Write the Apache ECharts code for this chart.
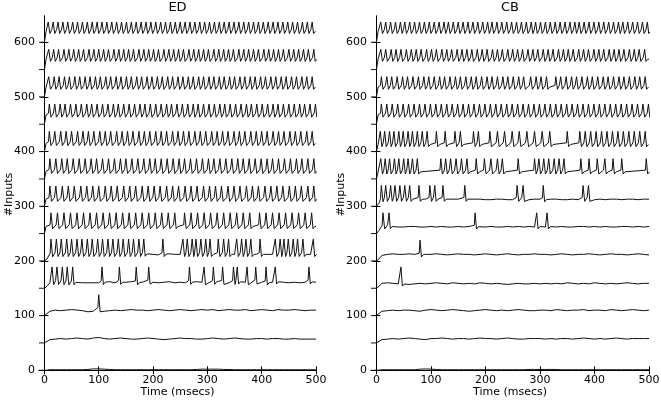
<!DOCTYPE html>
<html><head><meta charset="utf-8">
<script src="https://cdn.jsdelivr.net/npm/echarts@6/dist/echarts.min.js"></script>
<style>html,body{margin:0;padding:0;background:#fff}#c{width:661px;height:400px}</style>
</head><body><div id="c"></div>
<script>
const panelTitles = ['ED', 'CB'];
const xTickVals = [0, 100, 200, 300, 400, 500];
const yTickVals = [0, 100, 200, 300, 400, 500, 600];
const traceOffsets = [0, 50, 100, 150, 200, 250, 300, 350, 400, 450, 500, 550, 600];
const levelTimes = [5, 10,20,30,40,50,60,70,80,90,100, 110,120,130,140,150,160,170,180,190,200, 210,220,230,240,250,260,270,280,290,300, 310,320,330,340,350,360,370,380,390,400, 410,420,430,440,450,460,470,480,490,500];

// ---------- ED panel ----------
const edLvl0   = [0.3, 1,1,1,1,1,1,1,1.5,2.5,2.5, 2,1.5,1,1,1,1,1,1,1,1, 1,1,1,1,1,1,1,1.5,2,2, 2,2,1.5,1.5,1,1,1,1,1,1, 1,1,1,1,1,1,1,1,1,1];
const edLvl50  = [53, 56,57,58,57,58,59,58,57,59,60, 58,57,58,59,58,57,57,58,59,58, 57,56,57,58,59,58,58,57,57,58, 59,58,57,58,59,58,57,57,58,58, 57,58,58,57,57,58,57,57,57,57];
const edLvl100 = [104, 108,110,109,110,111,110,109,107,108,112, 108,109,110,109,110,111,110,110,109,110, 111,110,109,110,111,110,109,110,111,110, 111,109,110,111,110,110,111,109,110,111, 110,109,111,110,110,111,110,109,110,110];
const edLvl150 = [154, 160,161,161,160,160,161,160,160,160,160, 161,162,160,161,161,162,160,161,162,161, 160,161,162,160,161,160,161,162,161,160, 161,162,161,160,161,162,161,160,162,161, 160,161,162,161,160,161,160,161,162,161];
const edLvl200 = [204, 211,212,212,212,212,212,212,212,212,212, 212,212,212,212,212,212,212,212,213,212, 211,212,213,212,212,212,212,212,212,212, 212,212,212,212,212,212,212,212,212,212, 212,212,212,212,212,212,212,212,212,212];

const edS0 = [];
const edS50 = [];
const edS100 = [100];
const edS150 = [14,23,33,42,52,106,138,169,192,267,294,311,328,348,355,373,389,408,425,487];
const edS200 = [12,22,31,41,50,60,69,79,88,98,107,117,126,136,145,155,164,174,183,218,255,263,272,279,288,297,305,320,330,339,354,363,371,380,397,425,434,441,449,458,466,476,495];
const edS250 = [12,24,36,48,60,72,84,96,108,120,132,144,156,168,180,192,204,216,228,240,258,270,282,294,306,318,330,342,354,366,378,396,408,420,432,444,456,468,480,492];
const edS300 = [10,21,33,44,55,67,78,89,100,112,123,134,146,157,168,180,191,202,213,225,236,247,259,270,281,293,304,315,326,338,349,360,372,383,394,406,417,428,439,451,462,473,485,496];
const edS350 = [10,21,32,42,53,64,75,86,96,107,118,129,140,150,161,172,183,194,204,215,226,237,248,258,269,280,291,302,312,323,334,345,356,366,377,388,399,410,420,431,442,453,464,474,485,496];
const edS400 = [9,19,30,40,50,61,71,81,91,102,112,122,133,143,153,163,174,184,194,205,215,225,236,246,256,266,277,287,297,308,318,328,338,349,359,369,380,390,400,410,421,431,441,452,462,472,483,493];
const edS450 = [9,19,29,38,48,58,68,78,87,97,107,117,127,136,146,156,166,176,185,195,205,215,225,234,244,254,264,274,283,293,303,313,323,332,342,352,362,372,381,391,401,411,421,430,440,450,460,470,479,489,499];
const edS500 = [8,18,27,37,46,56,65,75,84,94,103,113,122,132,141,151,160,170,179,189,198,208,217,227,236,246,255,265,274,284,293,303,312,322,331,341,350,360,369,379,388,398,407,417,426,436,445,455,464,474,483,493];
const edS550 = [8,17,26,36,45,54,63,72,82,91,100,109,118,128,137,146,155,164,174,183,192,201,210,220,229,238,247,256,266,275,284,293,302,312,321,330,339,348,358,367,376,385,394,404,413,422,431,440,450,459,468,477,486,496];
const edS600 = [7,16,25,34,43,52,61,70,79,88,97,106,115,124,133,142,151,160,169,178,187,196,205,214,223,232,241,250,259,268,277,286,295,304,313,322,331,340,349,358,367,376,385,394,403,412,421,430,439,448,457,466,475,484,493];

const edSpikes = [edS0, edS50, edS100, edS150, edS200, edS250, edS300, edS350, edS400, edS450, edS500, edS550, edS600];
const edBase = [edLvl0, edLvl50, edLvl100, edLvl150, edLvl200, 13, 13, 14, 15, 17, 18, 19, 20];
const edPeak = [0, 0, 38, 39, 40, 38, 37, 37, 37, 37, 37, 37, 37];

// ---------- CB panel ----------
const cbLvl0   = [0.3, 1,1,1,1,1,1,1,2,2.5,2, 1.5,1,1,1,1,1,1,1,1,1, 1,1,1,1,1,1,1,1.5,1.5,1.5, 1.5,1.5,1.5,1,1,1,1,1,1,1, 1,1,1,1,1,1,1,1,1,1];
const cbLvl50  = [53, 56,57,58,57,58,59,58,57,56,58, 58,59,58,57,58,58,57,58,59,58, 58,57,58,59,58,57,57,58,58,58, 57,58,57,58,58,57,58,59,58,57, 58,57,58,59,58,57,58,58,58,58];
const cbLvl100 = [104, 108,109,110,109,110,110,109,108,110,111, 110,109,110,111,110,109,108,109,110,111, 110,109,110,109,110,111,110,109,109,110, 110,109,111,110,109,110,110,111,109,110, 110,109,111,110,109,110,111,110,109,110];
const cbLvl150 = [154, 159,160,159,158,158,157,158,159,158,159, 160,159,158,160,159,158,159,158,160,159, 158,159,158,157,158,159,158,158,159,158, 159,158,159,158,160,159,158,159,158,160, 159,158,159,158,159,160,159,158,159,159];
const cbLvl200 = [204, 210,212,213,212,212,213,212,211,212,212, 213,212,211,212,213,212,212,211,212,213, 212,211,212,213,212,211,212,212,213,212, 212,211,212,213,212,211,212,212,213,212, 211,212,213,212,212,211,212,213,212,211];
const cbLvl250 = [256, 262,263,263,262,262,263,263,262,262,263, 262,263,262,262,263,262,263,262,263,262, 263,262,262,263,262,263,262,263,262,263, 262,263,262,263,262,262,263,263,262,263, 262,263,262,262,263,263,262,263,262,263];
const cbLvl300 = [306, 312,313,313,313,313,313,313,313,313,313, 313,313,313,313,313,313,313,313,313,312, 312,313,313,312,312,313,313,312,313,313, 312,313,313,312,312,313,312,313,313,312, 313,312,313,313,312,313,313,312,313,313];

const cbS0 = [];
const cbS50 = [];
const cbS100 = [];
const cbS150 = [45];
const cbS200 = [80];
const cbS250 = [12,23,181,294,313];
const cbS300 = [9,17,26,34,43,52,61,78,98,107,122,162,258,269,306,379,389];
const cbS350 = [8,16,24,33,41,50,58,66,75,118,127,136,146,156,166,183,198,210,222,231,260,290,298,307,316,326,335,344,375,390,405,419,434,450,495];
const cbS400 = [7,15,24,32,41,49,58,66,75,84,93,110,126,144,154,178,187,208,222,235,249,262,276,290,304,318,350,373,383,393,403,413,423,433,443,453,463,473,483,493];
const cbS450 = [9,19,29,39,49,59,69,79,89,99,109,119,129,139,149,159,169,179,189,199,209,219,229,239,249,259,269,279,289,299,309,319,329,339,349,359,369,379,389,399,409,419,429,439,449,459,469,479,489,499];
const cbS500 = [9,19,28,38,48,57,67,77,87,96,106,116,125,135,145,154,164,174,183,193,203,212,222,232,241,251,261,270,283,293,302,312,329,338,348,358,367,377,387,396,406,416,425,435,445,454,464,474,483,493];
const cbS550 = [8,17,27,36,45,55,64,73,82,92,101,110,120,129,138,148,157,166,175,185,194,203,213,222,231,241,250,259,268,278,287,296,306,315,324,334,343,352,361,371,380,389,399,408,417,427,436,445,454,464,473,482,492];
const cbS600 = [8,17,26,35,44,52,61,70,79,88,97,106,115,124,132,141,150,159,168,177,186,195,204,212,221,230,239,248,257,266,275,284,292,301,310,319,328,337,346,355,364,372,381,390,399,408,417,426,435,444,452,461,470,479,488,497];

const cbSpikes = [cbS0, cbS50, cbS100, cbS150, cbS200, cbS250, cbS300, cbS350, cbS400, cbS450, cbS500, cbS550, cbS600];
const cbBase = [cbLvl0, cbLvl50, cbLvl100, cbLvl150, cbLvl200, cbLvl250, cbLvl300, 13, 13, 17, 18, 19, 20];
const cbPeak = [0, 0, 0, 39, 38, 38, 38, 37, 37, 37, 37, 37, 37];

// ---------- build ----------
function interp(ts, vs, t) {
  const n = Math.min(ts.length, vs.length);
  if (t <= ts[0]) return vs[0];
  for (let i = 1; i < n; i++) {
    if (t <= ts[i]) { const f = (t - ts[i-1]) / (ts[i] - ts[i-1]); return vs[i-1] + f * (vs[i] - vs[i-1]); }
  }
  return vs[n-1];
}
const DENSE = 14;
function buildTrace(off, spikes, base, pk) {
  const isArr = Array.isArray(base);
  const b = t => isArr ? interp(levelTimes, base, t) : off + base;
  const knots = [[-10, off], [0, off]];
  if (isArr) levelTimes.forEach((t, i) => { if (i < base.length) knots.push([t, base[i]]); });
  else { knots.push([3, off + base]); knots.push([500, off + base]); }
  const excl = spikes.map((s, i) => {
    const n = spikes[i + 1];
    return [s - 3, (n !== undefined && n - s <= DENSE) ? n : s + 7];
  });
  const pts = knots.filter(p => p[0] <= 0 || !excl.some(e => p[0] > e[0] && p[0] < e[1]));
  spikes.forEach((s, i) => {
    const nxt = i + 1 < spikes.length ? spikes[i+1] : Infinity;
    const prv = i > 0 ? spikes[i-1] : -Infinity;
    if (s - prv > DENSE) pts.push([s - 1.6, b(s) + 3]);
    pts.push([s, off + pk]);
    if (nxt - s <= DENSE) {
      pts.push([s + 3, b(s + 3) - 4]);
      pts.push([nxt - 2.5, b(nxt) + 3]);
    } else {
      pts.push([s + 2.5, b(s + 2.5) - 4]);
      pts.push([s + 6, b(s + 6)]);
    }
  });
  pts.sort((a, c) => a[0] - c[0]);
  return pts;
}

const FONT = 'DejaVu Sans';
const grids = [
  { left: 39, top: 16, width: 277, height: 357, outerBoundsMode: 'none', containLabel: false },
  { left: 371, top: 16, width: 278, height: 357, outerBoundsMode: 'none', containLabel: false }
];
const xAxes = [], yAxes = [], series = [];
const axisLine = { show: true, lineStyle: { color: '#000', width: 1 } };
const tickX = { show: true, inside: true, length: 4, customValues: xTickVals, lineStyle: { color: '#000' } };
const tickY = { show: true, inside: true, length: 4, customValues: yTickVals, lineStyle: { color: '#000' } };
const panels = [[edSpikes, edBase, edPeak], [cbSpikes, cbBase, cbPeak]];
panels.forEach((p, g) => {
  xAxes.push({ gridIndex: g, type: 'value', min: -10, max: 500, position: 'bottom',
    axisLine, axisTick: tickX, splitLine: { show: false },
    axisLabel: { customValues: xTickVals, color: '#000', fontFamily: FONT, fontSize: 11, margin: 2 },
    name: 'Time (msecs)', nameLocation: 'middle', nameGap: 14, nameMoveOverlap: false,
    nameTextStyle: { color: '#000', fontFamily: FONT, fontSize: 11 } });
  xAxes.push({ gridIndex: g, type: 'value', min: -10, max: 500, position: 'top',
    axisLine, axisTick: tickX, splitLine: { show: false }, axisLabel: { show: false },
    name: panelTitles[g], nameLocation: 'middle', nameGap: 2, nameMoveOverlap: false,
    nameTextStyle: { color: '#000', fontFamily: FONT, fontSize: 13 } });
  yAxes.push({ gridIndex: g, type: 'value', min: -5, max: 648, position: 'left',
    axisLine, axisTick: tickY, splitLine: { show: false },
    axisLabel: { customValues: yTickVals, color: '#000', fontFamily: FONT, fontSize: 11, margin: 4 },
    name: '#Inputs', nameLocation: 'middle', nameGap: 24, nameRotate: 90, nameMoveOverlap: false,
    nameTextStyle: { color: '#000', fontFamily: FONT, fontSize: 11 } });
  yAxes.push({ gridIndex: g, type: 'value', min: -5, max: 648, position: 'right',
    axisLine, axisTick: tickY, splitLine: { show: false }, axisLabel: { show: false } });
  const [spk, base, peak] = p;
  traceOffsets.forEach((off, k) => {
    series.push({ type: 'line', xAxisIndex: 2 * g, yAxisIndex: 2 * g,
      data: buildTrace(off, spk[k], base[k], peak[k]),
      showSymbol: false, symbol: 'none', silent: true, clip: true,
      lineStyle: { color: '#111', width: 1 } });
  });
});

const chart = echarts.init(document.getElementById('c'), null, { renderer: 'canvas' });
chart.setOption({ animation: false, backgroundColor: '#fff', grid: grids, xAxis: xAxes, yAxis: yAxes, series });
</script>
</body></html>
